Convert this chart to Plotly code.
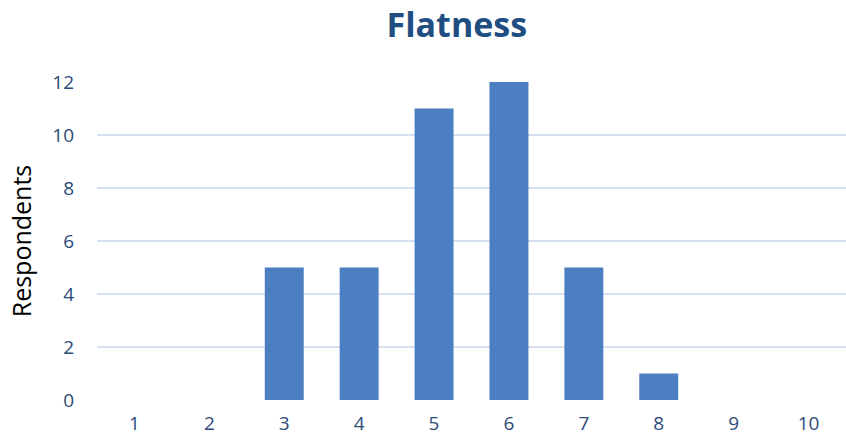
import plotly.graph_objects as go

categories = [1, 2, 3, 4, 5, 6, 7, 8, 9, 10]
respondents = [0, 0, 5, 5, 11, 12, 5, 1, 0, 0]
y_ticks = [0, 2, 4, 6, 8, 10, 12]

fig = go.Figure()
fig.add_trace(go.Bar(
    x=categories, y=respondents,
    marker=dict(color="#4b7fc1", line=dict(width=0)),
    width=0.52,
))

fig.update_layout(
    width=846, height=444,
    margin=dict(l=97, r=0, t=82, b=44, autoexpand=False),
    paper_bgcolor="white", plot_bgcolor="white",
    showlegend=False,
    font=dict(family="Open Sans", color="#2b4b78"),
    title=dict(text="<b>Flatness</b>", x=0.54, xanchor="center",
               yref="container", y=0.944, yanchor="middle",
               font=dict(size=34, color="#1f4e82", family="Open Sans")),
)
fig.update_xaxes(
    range=[0.5, 10.5], tickmode="array", tickvals=categories,
    ticktext=[str(c) for c in categories], automargin=False,
    showgrid=False, zeroline=False, showline=False,
    tickfont=dict(size=19, color="#2b4b78"), ticks="", ticklabelstandoff=10,
)
fig.update_yaxes(
    range=[0, 12], tickmode="array", tickvals=y_ticks, automargin=False,
    showgrid=True, gridcolor="#d6e0f0", gridwidth=2, zeroline=False,
    tickfont=dict(size=19, color="#2b4b78"), ticks="", ticklabelstandoff=22,
    title=dict(text="Respondents", font=dict(size=25, color="black"), standoff=13),
)
fig.write_html("out.html",
               config={"displayModeBar": False},
               post_script="document.body.style.margin='0';document.body.style.overflow='hidden';")
